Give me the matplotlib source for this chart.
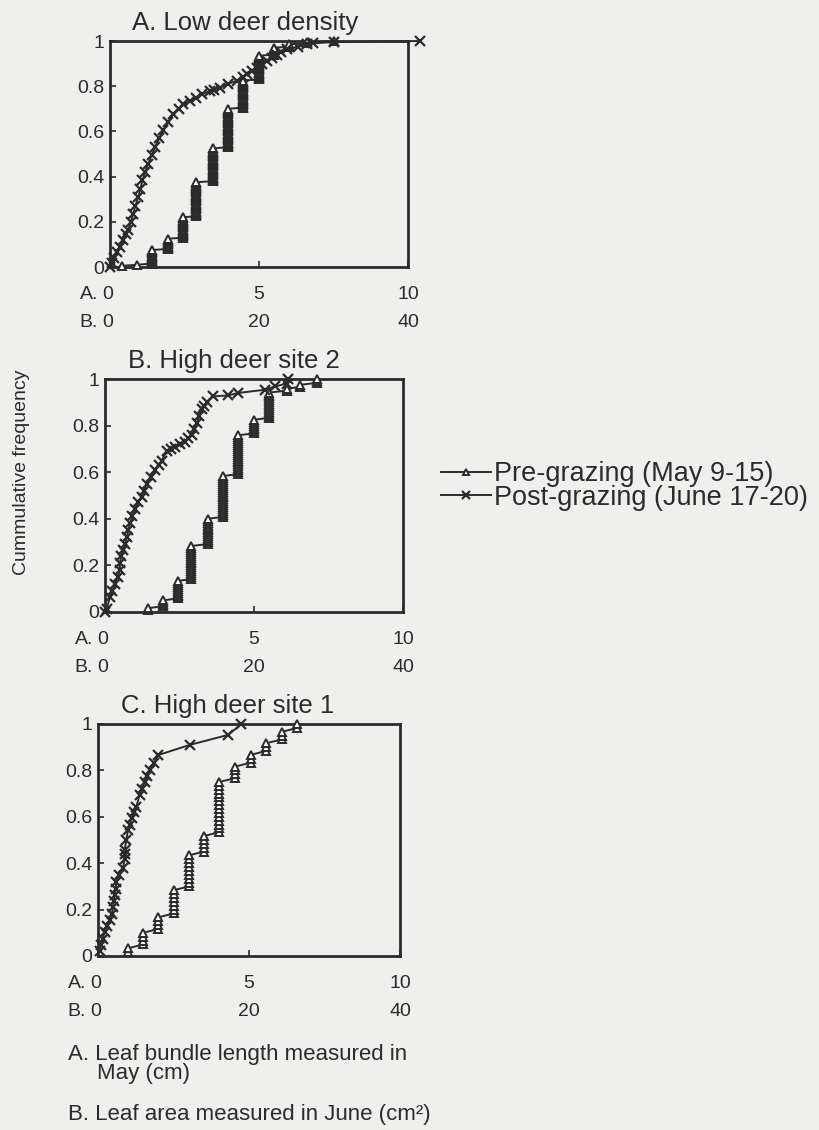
import numpy as np
import matplotlib
matplotlib.use("Agg")
import matplotlib.pyplot as plt

plt.rcParams["font.family"] = ["Liberation Sans", "DejaVu Sans"]

BG = "#efefed"
INK = "#2b2b2b"

# Pre-grazing: leaf bundle length (cm), recorded in steps -> value + count
pre_a_len = [0.4, 0.9, 1.4, 1.95, 2.45, 2.9, 3.45, 3.95, 4.45, 5.0, 5.5, 6.0, 6.6, 7.5]
pre_a_n = [1, 1, 13, 10, 19, 31, 30, 35, 25, 22, 7, 3, 2, 1]
pre_b_len = [1.45, 1.95, 2.45, 2.9, 3.45, 3.95, 4.45, 5.0, 5.5, 6.1, 6.55, 7.1]
pre_b_n = [2, 4, 10, 18, 14, 22, 21, 8, 14, 2, 2, 3]
pre_c_len = [1.0, 1.5, 2.0, 2.5, 3.0, 3.5, 4.0, 4.55, 5.05, 5.55, 6.1, 6.6]
pre_c_n = [2, 4, 4, 7, 9, 5, 14, 4, 3, 3, 3, 2]

# Post-grazing: leaf area / 4 (shared axis), with cumulative frequency
post_a_x = [0.0, 0.06, 0.15, 0.25, 0.34, 0.45, 0.55, 0.61, 0.7, 0.78, 0.85, 0.95,
            1.02, 1.09, 1.18, 1.28, 1.4, 1.51, 1.65, 1.79, 1.95, 2.12, 2.3, 2.46,
            2.7, 2.9, 3.1, 3.36, 3.5, 3.69, 3.95, 4.25, 4.45, 4.59, 4.75, 4.92,
            5.1, 5.26, 5.45, 5.59, 5.75, 5.93, 6.3, 6.6, 6.8, 7.5, 10.4]
post_a_cum = [0.0, 0.016, 0.04, 0.065, 0.09, 0.12, 0.145, 0.163, 0.2, 0.236, 0.27, 0.31,
              0.345, 0.383, 0.42, 0.457, 0.495, 0.53, 0.57, 0.604, 0.64, 0.677, 0.70, 0.72,
              0.735, 0.75, 0.765, 0.78, 0.785, 0.794, 0.81, 0.824, 0.84, 0.854, 0.868, 0.882,
              0.897, 0.912, 0.926, 0.94, 0.952, 0.963, 0.975, 0.985, 0.99, 0.995, 1.0]
post_b_x = [0.0, 0.06, 0.17, 0.25, 0.34, 0.42, 0.5, 0.5, 0.55, 0.61, 0.67, 0.73,
            0.78, 0.84, 0.92, 1.0, 1.1, 1.23, 1.3, 1.4, 1.55, 1.68, 1.8, 1.9,
            2.07, 2.2, 2.35, 2.5, 2.68, 2.8, 2.91, 3.0, 3.08, 3.16, 3.24, 3.33,
            3.41, 3.63, 4.14, 4.47, 5.37, 5.7, 6.1, 6.15]
post_b_cum = [0.0, 0.015, 0.065, 0.09, 0.12, 0.15, 0.18, 0.21, 0.24, 0.265, 0.29, 0.32,
              0.35, 0.38, 0.41, 0.44, 0.47, 0.495, 0.52, 0.55, 0.58, 0.61, 0.63, 0.65,
              0.69, 0.70, 0.71, 0.72, 0.73, 0.745, 0.76, 0.785, 0.81, 0.84, 0.87, 0.885,
              0.90, 0.925, 0.93, 0.94, 0.954, 0.968, 0.98, 1.0]
post_c_x = [0.05, 0.11, 0.16, 0.22, 0.3, 0.39, 0.45, 0.5, 0.52, 0.55, 0.58, 0.61,
            0.7, 0.83, 0.88, 0.9, 0.88, 0.94, 0.99, 1.05, 1.11, 1.2, 1.27, 1.38,
            1.45, 1.55, 1.62, 1.71, 1.85, 1.99, 3.04, 4.31, 4.75]
post_c_cum = [0.02, 0.047, 0.075, 0.105, 0.13, 0.155, 0.18, 0.21, 0.235, 0.263, 0.29, 0.32,
              0.35, 0.378, 0.42, 0.44, 0.457, 0.50, 0.543, 0.565, 0.593, 0.62, 0.644, 0.694,
              0.72, 0.751, 0.775, 0.80, 0.83, 0.866, 0.91, 0.953, 1.0]

titles = ["A. Low deer density", "B. High deer site 2", "C. High deer site 1"]
xticks_a = [0, 5, 10]
xticks_b = [0, 20, 40]
yticks = [0, 0.2, 0.4, 0.6, 0.8, 1]
ytick_labels = ["0", "0.2", "0.4", "0.6", "0.8", "1"]

W, H = 819, 1130
PT = 0.72  # points per pixel at 100 dpi
fig = plt.figure(figsize=(W / 100, H / 100), dpi=100, facecolor=BG)


def px_axes(left, top, right, bottom):
    return fig.add_axes([left / W, 1 - bottom / H, (right - left) / W, (bottom - top) / H])


boxes = [(110, 41, 408, 267), (105, 379, 403, 612), (98, 724, 400, 956)]
title_x = [0.453, 0.433, 0.43]
pre = [(pre_a_len, pre_a_n), (pre_b_len, pre_b_n), (pre_c_len, pre_c_n)]
post = [(post_a_x, post_a_cum), (post_b_x, post_b_cum), (post_c_x, post_c_cum)]

for i, box in enumerate(boxes):
    ax = px_axes(*box)
    ax.set_facecolor(BG)

    vals, counts = pre[i]
    x_pre = np.repeat(vals, counts)
    y_pre = np.arange(1, len(x_pre) + 1) / len(x_pre)
    l1, = ax.plot(x_pre, y_pre, color=INK, lw=1.4, marker="^", ms=6,
                  mfc="white", mec=INK, mew=1.4, clip_on=False, zorder=3,
                  label="Pre-grazing (May 9-15)")
    l2, = ax.plot(post[i][0], post[i][1], color=INK, lw=1.4, marker="x", ms=7.5,
                  mew=1.6, clip_on=False, zorder=4,
                  label="Post-grazing (June 17-20)")

    ax.set_xlim(0, 10)
    ax.set_ylim(0, 1)
    ax.set_yticks(yticks)
    ax.set_yticklabels(ytick_labels)
    ax.set_xticks(xticks_a)
    ax.set_xticklabels([])
    ax.tick_params(direction="in", length=4, width=1.2, color=INK,
                   labelsize=14, labelcolor=INK, pad=4)
    for s in ax.spines.values():
        s.set_linewidth(2)
        s.set_color(INK)

    # two rows of x labels: A (cm) and B (cm2)
    xt = ax.get_xaxis_transform()
    for row, (prefix, labels) in enumerate([("A.", xticks_a), ("B.", xticks_b)]):
        dy = -(32 + 28 * row) * PT
        for xv, lab in zip(xticks_a, labels):
            ax.annotate(str(lab), xy=(xv, 0), xycoords=xt, xytext=(-2 * PT if xv == 0 else 0, dy),
                        textcoords="offset points", ha="center", va="baseline",
                        fontsize=14, color=INK, annotation_clip=False)
        ax.annotate(prefix, xy=(0, 0), xycoords=xt, xytext=(-12 * PT, dy),
                    textcoords="offset points", ha="right", va="baseline",
                    fontsize=14, color=INK, annotation_clip=False)

    ax.annotate(titles[i], xy=(title_x[i], 1), xycoords="axes fraction",
                xytext=(0, 11 * PT), textcoords="offset points", ha="center",
                va="baseline", fontsize=18.5, color=INK)

fig.text(22 / W, 1 - 472 / H, "Cummulative frequency", rotation=90,
         ha="center", va="center", fontsize=14, color=INK)

fig.legend(handles=[l1, l2], loc="center left", bbox_to_anchor=(441 / W, 1 - 486 / H),
           frameon=False, fontsize=19.5, handlelength=1.85, handletextpad=0.12,
           labelspacing=-0.08, borderpad=0, borderaxespad=0, labelcolor=INK,
           markerscale=0.75)

fig.text(68 / W, 1 - 1060 / H, "A. Leaf bundle length measured in",
         ha="left", va="baseline", fontsize=16, color=INK)
fig.text(97 / W, 1 - 1079 / H, "May (cm)",
         ha="left", va="baseline", fontsize=16, color=INK)
fig.text(68 / W, 1 - 1120 / H, "B. Leaf area measured in June (cm²)",
         ha="left", va="baseline", fontsize=16, color=INK)

fig.savefig("out.png", dpi=100, facecolor=BG)
